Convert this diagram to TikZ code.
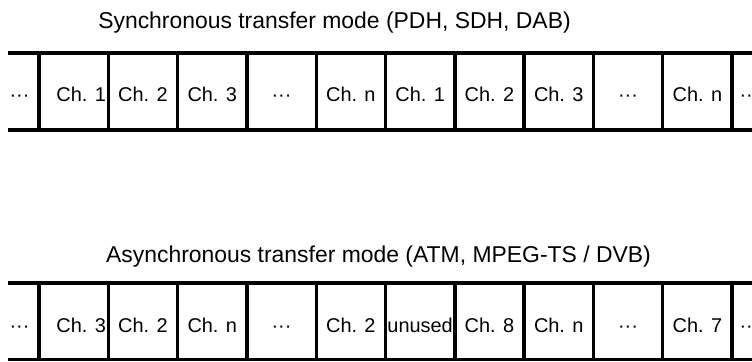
\documentclass[tikz,border=0pt]{standalone}
\usepackage{fontspec}
\setmainfont{Liberation Sans}
\tikzset{
  frameline/.style={line width=3.4bp},
  chlabel/.style={anchor=base, inner sep=0pt, font=\fontsize{20}{24}\selectfont},
  modetitle/.style={anchor=base, inner sep=0pt, font=\fontsize{23}{28}\selectfont}
}
\begin{document}
\begin{tikzpicture}[x=1bp,y=-1bp]
    \useasboundingbox (0,0) rectangle (752,361);
    \clip (0,0) rectangle (752,361);
    % synchronous frame
    \node[modetitle] (stitle) at (334.5,28) {Synchronous transfer mode (PDH, SDH, DAB)};
    \coordinate (sTL) at (8,53);
    \coordinate (sTR) at (752,53);
    \coordinate (sBL) at (8,130);
    \coordinate (sBR) at (752,130);
    \draw[frameline] (sTL) -- (sTR);
    \draw[frameline] (sBL) -- (sBR);
    \foreach \k in {0,...,10} {\draw[frameline] ({39+69.3*\k},53) -- ({39+69.3*\k},130);}
    \node[chlabel] (s0) at (19.5,101.7) {···};
    \foreach \lab/\dx [count=\k] in {Ch. 1/7.5, Ch. 2/0, Ch. 3/0, ···/0, Ch. n/0, Ch. 1/0, Ch. 2/0, Ch. 3/0, ···/0, Ch. n/0}
        {\node[chlabel] (s\k) at ({39+69.3*(\k-0.5)+\dx},101.7) {\lab};}
    \node[chlabel] (s11) at (749.5,101.7) {···};
    % asynchronous frame
    \node[modetitle] (atitle) at (378.5,262) {Asynchronous transfer mode (ATM, MPEG-TS / DVB)};
    \coordinate (aTL) at (8,283);
    \coordinate (aTR) at (752,283);
    \coordinate (aBL) at (8,359.5);
    \coordinate (aBR) at (752,359.5);
    \draw[frameline] (aTL) -- (aTR);
    \draw[frameline] (aBL) -- (aBR);
    \foreach \k in {0,...,10} {\draw[frameline] ({39+69.3*\k},283) -- ({39+69.3*\k},359.5);}
    \node[chlabel] (a0) at (19.5,332.7) {···};
    \foreach \lab/\dx [count=\k] in {Ch. 3/7.5, Ch. 2/0, Ch. n/0, ···/0, Ch. 2/0, unused/0, Ch. 8/0, Ch. n/0, ···/0, Ch. 7/0}
        {\node[chlabel] (a\k) at ({39+69.3*(\k-0.5)+\dx},332.7) {\lab};}
    \node[chlabel] (a11) at (749.5,332.7) {···};
\end{tikzpicture}
\end{document}
